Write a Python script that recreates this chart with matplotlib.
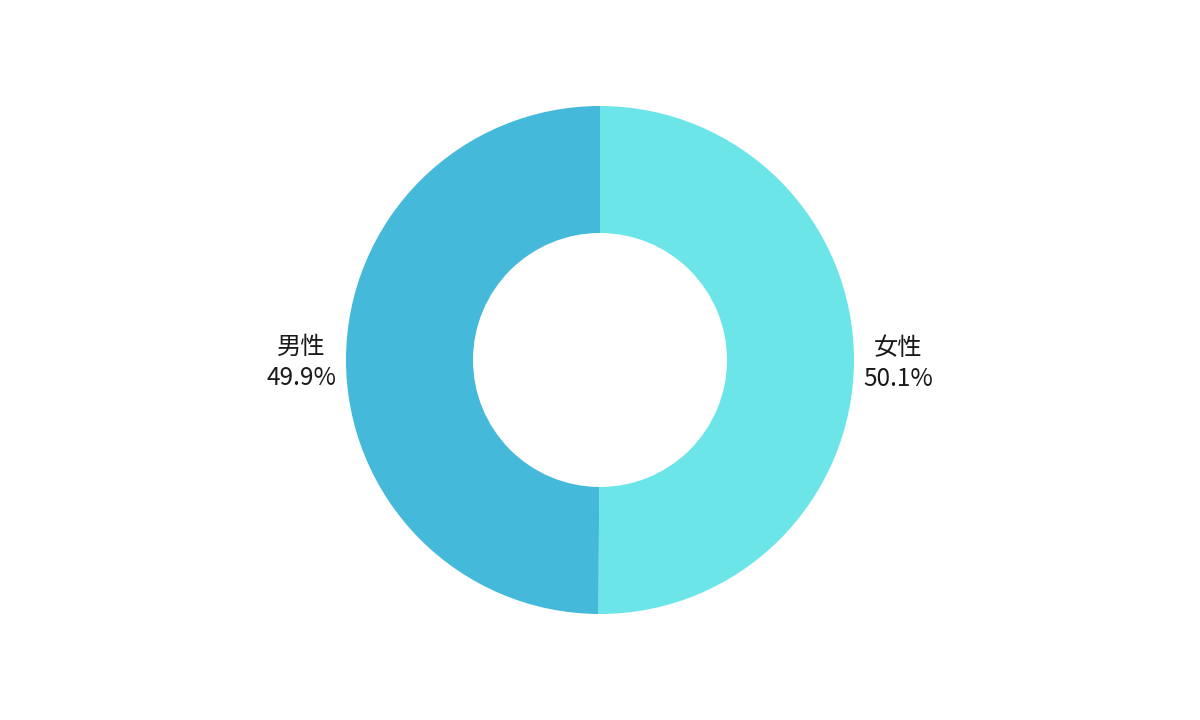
import numpy as np
import matplotlib.pyplot as plt

plt.rcParams['font.family'] = ['Noto Sans CJK JP', 'DejaVu Sans']

# data
labels = ["女性", "男性"]
shares = [50.1, 49.9]
colors = ["#6ce5e9", "#44b9d9"]

fig = plt.figure(figsize=(12, 7.2), dpi=100)
fig.patch.set_facecolor("#ffffff")
ax = fig.add_axes([0, 0, 1, 1])

wedges, _ = ax.pie(
    shares,
    colors=colors,
    startangle=90,
    counterclock=False,
    radius=1.0,
    wedgeprops=dict(width=0.5, linewidth=0),
)

# labels next to each slice
for w, name, val in zip(wedges, labels, shares):
    mid = np.deg2rad((w.theta1 + w.theta2) / 2)
    x = 1.175 * np.cos(mid)
    y = 1.175 * np.sin(mid) - 0.012
    ax.text(x, y, f"{name}\n{val:.1f}%", ha="center", va="center",
            fontsize=17.5, color="#1a1a1a", linespacing=1.25)

ax.set_xlim(-600 / 254, 600 / 254)
ax.set_ylim(-360 / 254, 360 / 254)
ax.set_aspect("equal")
ax.axis("off")

plt.savefig("out.png", dpi=100)
